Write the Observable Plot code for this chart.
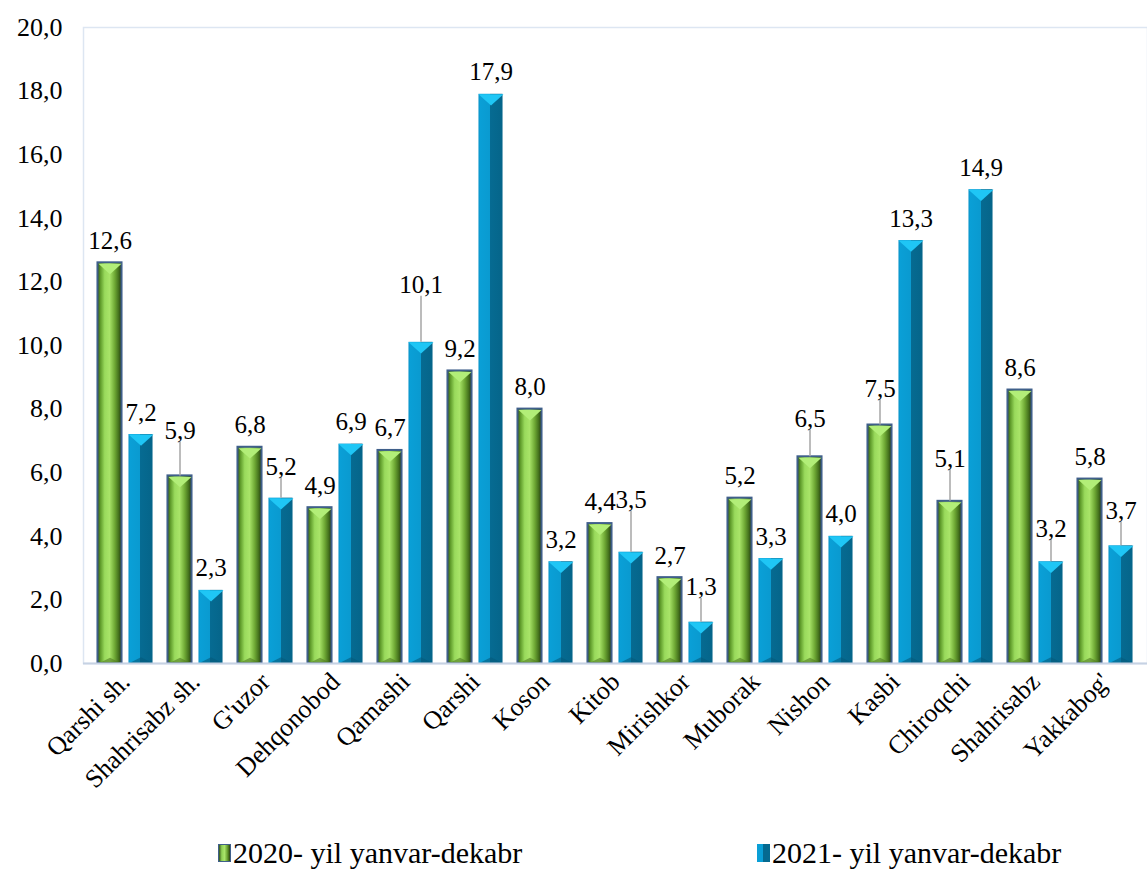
<!DOCTYPE html>
<html><head><meta charset="utf-8">
<script src="https://cdn.jsdelivr.net/npm/d3@7"></script>
<script src="https://cdn.jsdelivr.net/npm/@observablehq/plot@0.6"></script>
</head><body style="margin:0;background:#fff;font-family:serif">
<div id="wrap" style="position:relative;width:1147px;height:870px;background:#fff;font-family:serif"><div id="chart"></div><div id="legend" style="position:absolute;top:836px;left:0;width:1147px;height:34px;font-size:30px;color:#000;font-family:serif"></div></div>
<script>
const categories = ["Qarshi sh.","Shahrisabz sh.","G'uzor","Dehqonobod","Qamashi","Qarshi","Koson","Kitob","Mirishkor","Muborak","Nishon","Kasbi","Chiroqchi","Shahrisabz","Yakkabog'"];
const seriesNames = ["2020- yil yanvar-dekabr","2021- yil yanvar-dekabr"];
const values2020 = [12.6,5.9,6.8,4.9,6.7,9.2,8.0,4.4,2.7,5.2,6.5,7.5,5.1,8.6,5.8];
const values2021 = [7.2,2.3,5.2,6.9,10.1,17.9,3.2,3.5,1.3,3.3,4.0,13.3,14.9,3.2,3.7];
const yTicks = [0,2,4,6,8,10,12,14,16,18,20];

// layout only: how far some value labels are lifted above their bar (in axis units)
const labelLift = {"Shahrisabz sh.|0":0.72,"G'uzor|1":0.3,"Qamashi|1":1.1,"Kitob|1":0.95,"Mirishkor|1":0.4,"Nishon|0":0.5,"Kasbi|0":0.45,"Chiroqchi|0":0.65,"Shahrisabz|1":0.35,"Yakkabog'|1":0.4};

const W=1147,H=820,mT=27,mB=157,mL=83,mR=0;
const k=(H-mT-mB)/20;
const step=(W-mL-mR)/categories.length, half=step/2, off=15.5, bw=25;
const fmt=d=>d.toFixed(1).replace(".",",");

const rows=[];
categories.forEach((c,i)=>{
  [values2020[i],values2021[i]].forEach((v,s)=>{
    const lift=labelLift[c+"|"+s]||0;
    rows.push({cat:c,s,v,lift});
  });
});
const r0=rows.filter(d=>d.s===0), r1=rows.filter(d=>d.s===1);
const capDown={draw(ctx,size){const r=Math.sqrt(size/Math.PI);ctx.moveTo(-r,0);ctx.lineTo(r,0);ctx.lineTo(0,r*0.9);ctx.closePath();}};
const capUp={draw(ctx,size){const r=Math.sqrt(size/Math.PI);ctx.moveTo(-r,0);ctx.lineTo(r,0);ctx.lineTo(0,-r*0.5);ctx.closePath();}};

const marks=[Plot.frame({stroke:"#dde6f2",strokeWidth:1.5})];
[[r0,-off,"url(#gGreen)","#3f5f8a","#b2ee78"],[r1,off,"url(#gBlue)","none","#1fc6f5"]].forEach(([data,dx,fill,stroke,cap],s)=>{
  marks.push(Plot.barY(data,{x:"cat",y:"v",fill,stroke,strokeWidth:s===0?2:0,
    insetLeft:half+dx-bw/2,insetRight:half-dx-bw/2}));
  marks.push(Plot.dot(data,{x:"cat",y:"v",dx,dy:s===0?1:0,r:s===0?11.5:12.5,symbol:capDown,fill:cap,stroke:"none"}));
  marks.push(Plot.dot(data,{x:"cat",y:0,dx,r:s===0?11.5:12.5,symbol:capUp,fill:s===0?"#4e7a22":"#055a7c",stroke:"none",fillOpacity:0.6}));
  marks.push(Plot.ruleX(data.filter(d=>d.lift>0),{x:"cat",dx,y1:"v",y2:d=>d.v+d.lift+11/k,stroke:"#a6a6a6",strokeWidth:1.5}));
  marks.push(Plot.text(data,{x:"cat",y:d=>d.v+d.lift,dx,dy:-22,text:d=>fmt(d.v),fontSize:25,fill:"#000",lineAnchor:"middle"}));
});
marks.push(Plot.ruleY([0],{stroke:"#c6d2e3",strokeWidth:2}));
marks.push(Plot.axisX({tickRotate:-45,tickSize:0,tickPadding:14,fontSize:26,label:null}));
marks.push(Plot.axisY({ticks:yTicks,tickFormat:fmt,tickSize:0,tickPadding:21,fontSize:26,label:null}));

const svg=Plot.plot({
  width:W,height:H,marginTop:mT,marginBottom:mB,marginLeft:mL,marginRight:mR,
  style:{fontFamily:"serif",color:"#000",background:"transparent",overflow:"visible"},
  x:{domain:categories,padding:0,axis:null},
  y:{domain:[0,20],axis:null},
  marks
});
svg.insertAdjacentHTML("afterbegin",`<defs>
<linearGradient id="gGreen" x1="0" x2="1" y1="0" y2="0">
<stop offset="0" stop-color="#2f4a16"/><stop offset="0.12" stop-color="#5e9a2a"/>
<stop offset="0.3" stop-color="#99da5c"/><stop offset="0.5" stop-color="#a8e468"/>
<stop offset="0.72" stop-color="#6ea834"/><stop offset="0.9" stop-color="#3f6a1a"/>
<stop offset="1" stop-color="#1f2e10"/></linearGradient>
<linearGradient id="gBlue" x1="0" x2="1" y1="0" y2="0">
<stop offset="0" stop-color="#0b93c8"/><stop offset="0.08" stop-color="#0a9fd6"/>
<stop offset="0.5" stop-color="#0a9ad0"/><stop offset="0.5" stop-color="#066b92"/>
<stop offset="1" stop-color="#05658a"/></linearGradient></defs>`);
svg.querySelectorAll("text").forEach(t=>t.setAttribute("font-family","serif"));
document.getElementById("chart").appendChild(svg);

const lg=document.getElementById("legend");
const swStyles=["background:linear-gradient(90deg,#34521a 0%,#8fd055 25%,#a9e46a 50%,#5f9428 80%,#2a3f14 100%);border:1.5px solid #3f5f8a",
  "background:linear-gradient(90deg,#0a9fd6 0%,#0a9fd6 50%,#056a90 50%,#056a90 100%)"];
[218,757].forEach((x,i)=>{
  const it=document.createElement("div");
  it.style.cssText=`position:absolute;top:0;left:${x}px;display:flex;align-items:center;white-space:nowrap;line-height:34px;font-family:serif`;
  const sw=document.createElement("div");
  sw.style.cssText=`width:13px;height:18px;margin-right:2px;box-sizing:border-box;${swStyles[i]}`;
  const sp=document.createElement("span");sp.textContent=seriesNames[i];
  it.appendChild(sw);it.appendChild(sp);lg.appendChild(it);
});
</script>
</body></html>
